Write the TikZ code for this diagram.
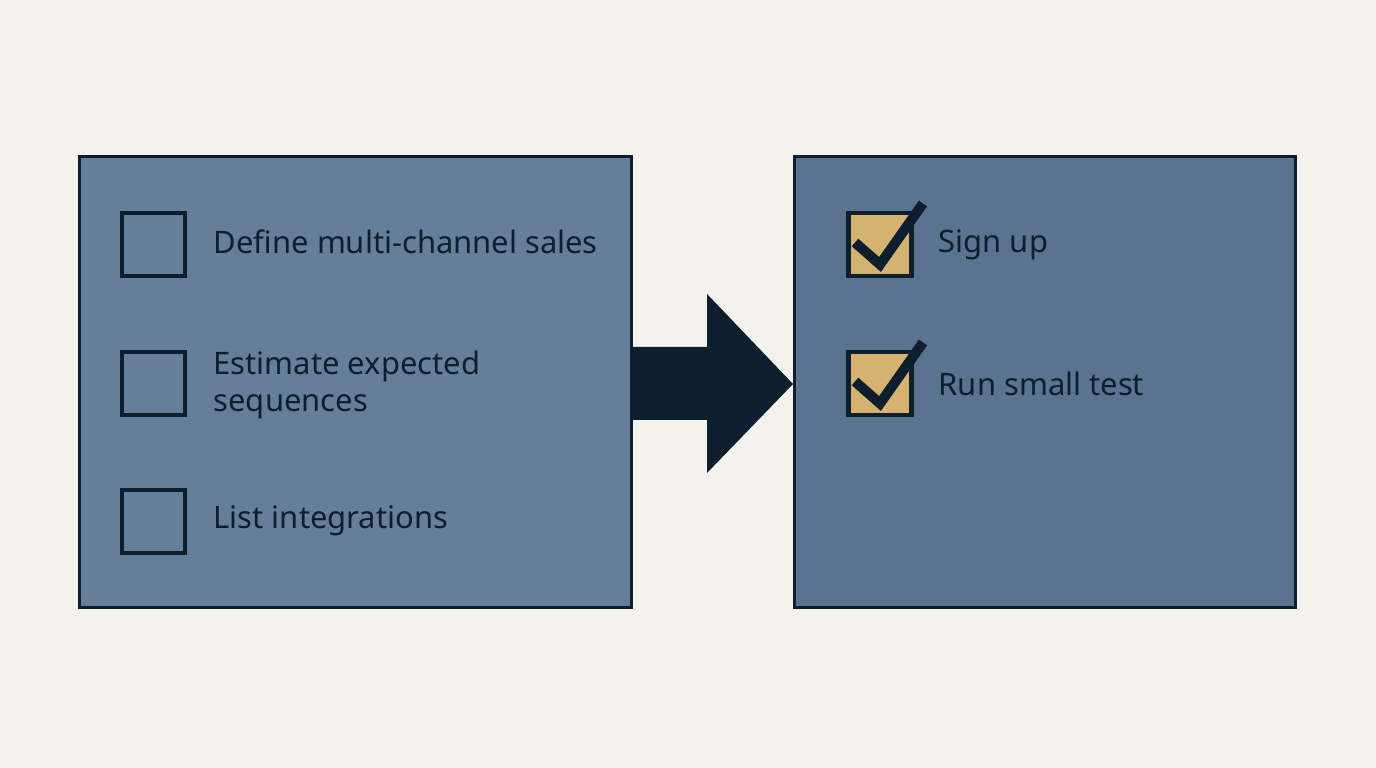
\documentclass[tikz,border=0pt]{standalone}
\usepackage{fontspec}
\setmainfont{Noto Sans}
\usepackage{xcolor}
\usepackage{tikz}
\usetikzlibrary{positioning}
\definecolor{paper}{RGB}{244,242,236}
\definecolor{navyline}{RGB}{14,30,46}
\definecolor{todofill}{RGB}{101,126,154}
\definecolor{donefill}{RGB}{90,115,144}
\definecolor{tickfill}{RGB}{212,178,112}

\begin{document}
\begin{tikzpicture}[
  x=0.01cm, y=-0.01cm,
  panel/.style={rectangle,draw=navyline,line width=0.032cm,inner sep=0pt},
  tickbox/.style={rectangle,draw=navyline,line width=0.042cm,inner sep=0pt,
    minimum width=0.63cm,minimum height=0.63cm},
  item/.style={anchor=west,align=left,inner sep=0pt,text=navyline,
    font=\fontsize{8.8pt}{10.5pt}\selectfont},
  checkmark/.style={draw=navyline,line width=0.1cm}
]
\useasboundingbox[fill=paper] (0,0) rectangle (1376,768);

\node[panel,fill=todofill,minimum width=5.51cm,minimum height=4.51cm] (todo) at (355.5,382) {};
\node[panel,fill=donefill,minimum width=5.01cm,minimum height=4.51cm] (done) at (1045,382) {};

% left list
\node[tickbox] (b1) at (153.5,244.5) {};
\node[tickbox] (b2) at (153.5,383.5) {};
\node[tickbox] (b3) at (153.5,521.5) {};
\node[item] (t1) at (213,242) {Define multi-channel sales};
\node[item] (t2) at (213,385) {Estimate expected\\ sequences};
\node[item] (t3) at (213,521) {List integrations};

% right list
\node[tickbox,fill=tickfill] (c1) at (880,244.5) {};
\node[tickbox,fill=tickfill] (c2) at (880,383.5) {};
\node[item] (s1) at (938,245) {Sign up};
\node[item] (s2) at (938,384) {Run small test};
\foreach \c in {c1,c2}
  \draw[checkmark] ([shift={(-25,-2)}]\c.center) -- ([shift={(0,20)}]\c.center)
    -- ([shift={(43,-41)}]\c.center);

% big arrow
\fill[navyline] (632,347) -- (707,347) -- (707,294) -- (793,384)
  -- (707,473) -- (707,420) -- (632,420) -- cycle;
\end{tikzpicture}
\end{document}
